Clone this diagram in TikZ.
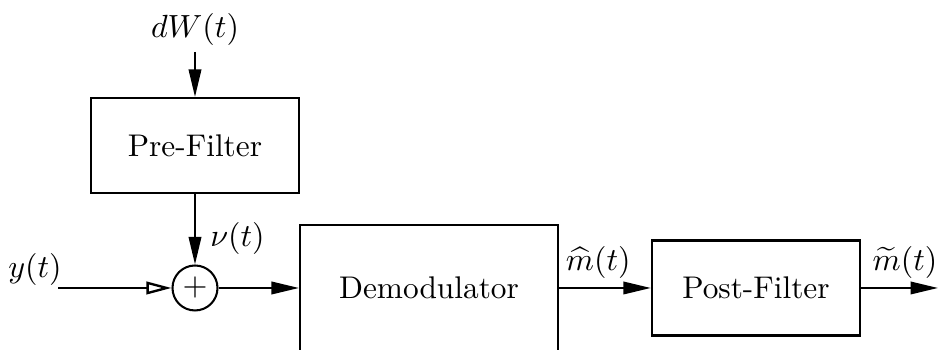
\documentclass[tikz,border=0pt]{standalone}
\usepackage{amsmath}
\usetikzlibrary{arrows.meta, positioning}
\tikzset{
  block/.style={draw, line width=0.7pt, minimum width=2.5cm, minimum height=1.14cm},
  sumnode/.style={draw, circle, line width=0.7pt, minimum size=0.54cm, inner sep=0pt},
  lbl/.style={inner sep=1pt},
  sig/.style={-{Triangle[length=3.3mm, width=1.5mm]}, line width=0.7pt},
  insig/.style={-{Triangle[open, length=3mm, width=1.5mm]}, line width=0.8pt},
  every node/.append style={font=\fontsize{10.7pt}{13pt}\selectfont}
}
\begin{document}
\begin{tikzpicture}
\clip (0,0) rectangle (11.256,4.2);
\useasboundingbox (0,0) rectangle (11.256,4.2);
\node[lbl] (dw) at (2.34,3.85) {$dW(t)$};
\coordinate (dwtop) at (2.34,3.576);
\node[block] (pre) at (2.34,2.454) {Pre-Filter};
\node[sumnode] (sum) at (2.34,0.744) {$+$};
\node[lbl] (nu) at (2.85,1.34) {$\nu(t)$};
\coordinate (yin) at (0.696,0.744);
\node[lbl] (y) at (0.42,0.96) {$y(t)$};
\node[block, minimum width=3.096cm, minimum height=1.512cm] (demod) at (5.148,0.744) {Demodulator};
\node[lbl] (mhat) at (7.18,1.05) {$\widehat{m}(t)$};
\node[block] (post) at (9.072,0.744) {Post-Filter};
\coordinate (mout) at (11.256,0.744);
\node[lbl] (mtil) at (10.86,1.05) {$\widetilde{m}(t)$};
\draw[sig] (dwtop) -- (pre);
\draw[sig] (pre) -- (sum);
\draw[insig] (yin) -- (sum);
\draw[sig] (sum) -- (demod);
\draw[sig] (demod) -- (post);
\draw[sig] (post) -- (mout);
\end{tikzpicture}
\end{document}
